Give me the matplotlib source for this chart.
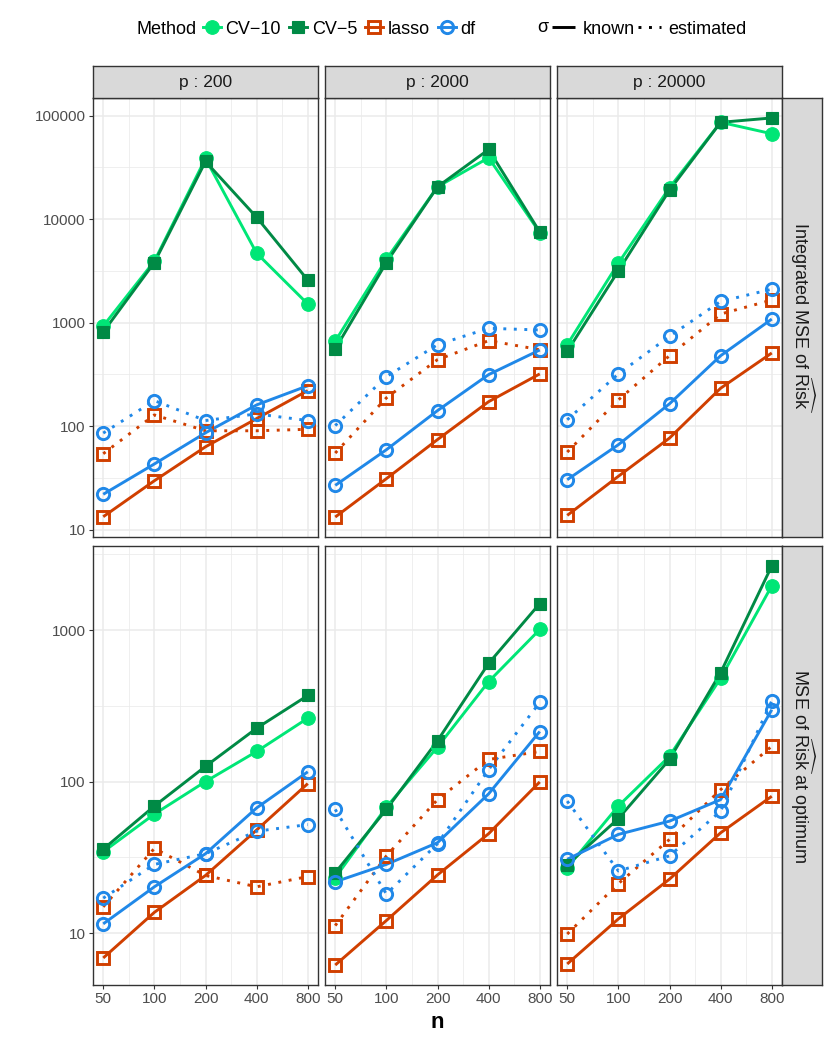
import numpy as np
import matplotlib
matplotlib.use("Agg")
import matplotlib.pyplot as plt
from matplotlib.lines import Line2D
from matplotlib.ticker import NullFormatter

plt.rcParams['font.family'] = ['Liberation Sans', 'DejaVu Sans']
plt.rcParams['mathtext.fontset'] = 'custom'
plt.rcParams['mathtext.rm'] = 'Liberation Sans'
plt.rcParams['mathtext.it'] = 'Liberation Sans:italic'

# ---- data ----
n_values = [50, 100, 200, 400, 800]
p_values = [200, 2000, 20000]
methods = ['CV−10', 'CV−5', 'lasso', 'df']
sigma_types = ['known', 'estimated']
row_labels = [r'Integrated MSE of $\widehat{\mathrm{Risk}}$',
              r'MSE of $\widehat{\mathrm{Risk}}$ at optimum']

# top row: integrated MSE, one list per p
imse_cv10 = [[925, 3920, 38500, 4680, 1510],
             [660, 4090, 20500, 39100, 7400],
             [611, 3750, 20100, 86100, 66700]]
imse_cv5 = [[810, 3800, 36000, 10400, 2570],
            [556, 3800, 20500, 47000, 7500],
            [527, 3160, 19000, 86000, 94800]]
imse_lasso_known = [[13.3, 29.6, 63, 118, 220],
                    [13.2, 31, 74, 172, 319],
                    [13.7, 32.7, 76.5, 232, 508]]
imse_lasso_est = [[54, 128, 90, 90, 93],
                  [54.8, 187, 438, 668, 547],
                  [56, 179, 478, 1208, 1650]]
imse_df_known = [[21.9, 43, 86, 160, 245],
                 [26.7, 59, 141, 314, 543],
                 [30.3, 66, 164, 478, 1080]]
imse_df_est = [[85.5, 176, 113, 131, 113],
               [101, 300, 611, 880, 847],
               [115, 319, 736, 1600, 2100]]

# bottom row: MSE at optimum
opt_cv10 = [[34.4, 61, 100, 158, 262],
            [23.2, 67.8, 169, 457, 1009],
            [27, 69, 147, 481, 1960]]
opt_cv5 = [[35.8, 68.9, 126, 225, 370],
           [25, 65.5, 186, 603, 1497],
           [28.2, 57, 140, 524, 2650]]
opt_lasso_known = [[6.85, 13.7, 24, 47.9, 97],
                   [6.15, 12.1, 24.2, 45.3, 99.5],
                   [6.25, 12.4, 22.7, 45.9, 80]]
opt_lasso_est = [[14.9, 36.2, 24, 20.2, 23.6],
                 [11.2, 32.3, 76, 140, 158],
                 [9.85, 21.2, 41.5, 88.5, 171]]
opt_df_known = [[11.5, 20.2, 33.4, 67, 116],
                [21.8, 28.4, 39.5, 83, 214],
                [30.7, 44.8, 54.8, 76, 298]]
opt_df_est = [[17, 28.4, 33.4, 47, 52],
              [65.5, 18.1, 38.9, 120, 333],
              [74.3, 25.7, 32.3, 63.8, 341]]

y_ticks_top = [10, 100, 1000, 10000, 100000]
y_ticks_bottom = [10, 100, 1000]

rows = [
    [('CV−10', 'known', imse_cv10), ('CV−5', 'known', imse_cv5),
     ('lasso', 'known', imse_lasso_known), ('lasso', 'estimated', imse_lasso_est),
     ('df', 'known', imse_df_known), ('df', 'estimated', imse_df_est)],
    [('CV−10', 'known', opt_cv10), ('CV−5', 'known', opt_cv5),
     ('lasso', 'known', opt_lasso_known), ('lasso', 'estimated', opt_lasso_est),
     ('df', 'known', opt_df_known), ('df', 'estimated', opt_df_est)],
]
row_ticks = [y_ticks_top, y_ticks_bottom]

# ---- styles ----
colors = {'CV−10': '#00E676', 'CV−5': '#008A45', 'lasso': '#D03F00', 'df': '#2088E8'}
markers = {'CV−10': 'o', 'CV−5': 's', 'lasso': 's', 'df': 'o'}
filled = {'CV−10': True, 'CV−5': True, 'lasso': False, 'df': False}
msize = {'CV−10': 9.8, 'CV−5': 9.2, 'lasso': 8.6, 'df': 8.8}
dotted = (0, (1, 2.6))
linestyles = {'known': '-', 'estimated': dotted}
LW = 2.1

W, H = 830, 1038
fig = plt.figure(figsize=(W / 100, H / 100), dpi=100)

col_x = [93, 325, 557]
pw = 225
row_y = [98, 546]
ph = 439


def fr(x, y, w, h):
    return [x / W, 1 - (y + h) / H, w / W, h / H]


x_minor = [np.sqrt(a * b) for a, b in zip(n_values[:-1], n_values[1:])]

for r in range(2):
    series = rows[r]
    allv = np.concatenate([np.ravel(s[2]) for s in series])
    lo, hi = np.log10(allv.min()), np.log10(allv.max())
    pad = 0.05 * (hi - lo)
    ylim = (10 ** (lo - pad), 10 ** (hi + pad))
    ticks = row_ticks[r]
    y_minor = [10 ** (np.log10(t) + 0.5) for t in [1] + ticks]
    for c in range(3):
        ax = fig.add_axes(fr(col_x[c], row_y[r], pw, ph))
        ax.set_xscale('log')
        ax.set_yscale('log')
        # lines first, then points (ggplot order)
        for m, s, vals in series:
            ax.plot(n_values, vals[c], color=colors[m], lw=LW,
                    ls=linestyles[s], solid_capstyle='butt', zorder=2)
        for m, s, vals in series:
            ax.plot(n_values, vals[c], ls='none', marker=markers[m], ms=msize[m],
                    mfc=colors[m] if filled[m] else 'none', mec=colors[m],
                    mew=0.8 if filled[m] else 2.1, zorder=3)
        ax.set_xlim(50 * 2 ** -0.2, 800 * 2 ** 0.2)
        ax.set_ylim(*ylim)
        ax.set_xticks(n_values)
        ax.set_xticks(x_minor, minor=True)
        ax.set_yticks(ticks)
        ax.set_yticks([v for v in y_minor if ylim[0] < v < ylim[1]], minor=True)
        ax.set_xticklabels([str(v) for v in n_values])
        ax.set_yticklabels([str(v) for v in ticks])
        ax.xaxis.set_minor_formatter(NullFormatter())
        ax.yaxis.set_minor_formatter(NullFormatter())
        ax.grid(which='major', color='#EBEBEB', lw=1.1, zorder=0)
        ax.grid(which='minor', color='#EBEBEB', lw=0.55, zorder=0)
        ax.set_axisbelow(True)
        for sp in ax.spines.values():
            sp.set_color('#333333')
            sp.set_linewidth(1.0)
        ax.tick_params(which='minor', length=0)
        ax.tick_params(which='major', length=3.2, width=0.8, color='#333333',
                       labelsize=11, labelcolor='#4D4D4D', pad=2)
        if c != 0:
            ax.tick_params(axis='y', which='major', length=0, labelleft=False)
        if r != 1:
            ax.tick_params(axis='x', which='major', length=0, labelbottom=False)

        if r == 0:
            st = fig.add_axes(fr(col_x[c], 66, pw, 32))
            st.set_facecolor('#D9D9D9')
            st.set_xticks([])
            st.set_yticks([])
            for sp in st.spines.values():
                sp.set_color('#333333')
                sp.set_linewidth(1.0)
            st.text(0.5, 0.5, 'p : %d' % p_values[c], ha='center', va='center',
                    fontsize=12.5, color='#1A1A1A', transform=st.transAxes)

    rs = fig.add_axes(fr(782, row_y[r], 40, ph))
    rs.set_facecolor('#D9D9D9')
    rs.set_xticks([])
    rs.set_yticks([])
    for sp in rs.spines.values():
        sp.set_color('#333333')
        sp.set_linewidth(1.0)
    rs.text(0.5, 0.5, row_labels[r], ha='center', va='center', rotation=-90,
            fontsize=13, color='#1A1A1A', transform=rs.transAxes)

fig.text(437 / W, 1 - 1022 / H, 'n', ha='center', va='center',
         fontsize=16, fontweight='bold')

# ---- legends ----
ly = 1 - 29 / H
LF = 13
fig.text(136 / W, ly, 'Method', ha='left', va='center', fontsize=LF)
mh = [Line2D([0], [0], color=colors[m], lw=LW, marker=markers[m], ms=msize[m],
             mfc=colors[m] if filled[m] else 'none', mec=colors[m],
             mew=0.8 if filled[m] else 2.1) for m in methods]
fig.legend(mh, methods, loc='center left', bbox_to_anchor=(203 / W, ly),
           ncol=4, frameon=False, handlelength=1.0, handletextpad=0.25,
           columnspacing=0.45, fontsize=LF, borderpad=0, borderaxespad=0)

fig.text(537 / W, ly + 2 / H, 'σ', ha='left', va='center', fontsize=LF)
sh = [Line2D([0], [0], color='black', lw=LW, ls=linestyles[s], solid_capstyle='butt')
      for s in sigma_types]
fig.legend(sh, sigma_types, loc='center left', bbox_to_anchor=(552 / W, ly),
           ncol=2, frameon=False, handlelength=1.28, handletextpad=0.42,
           columnspacing=0.15, fontsize=LF, borderpad=0, borderaxespad=0)

fig.savefig('out.png', dpi=100)
